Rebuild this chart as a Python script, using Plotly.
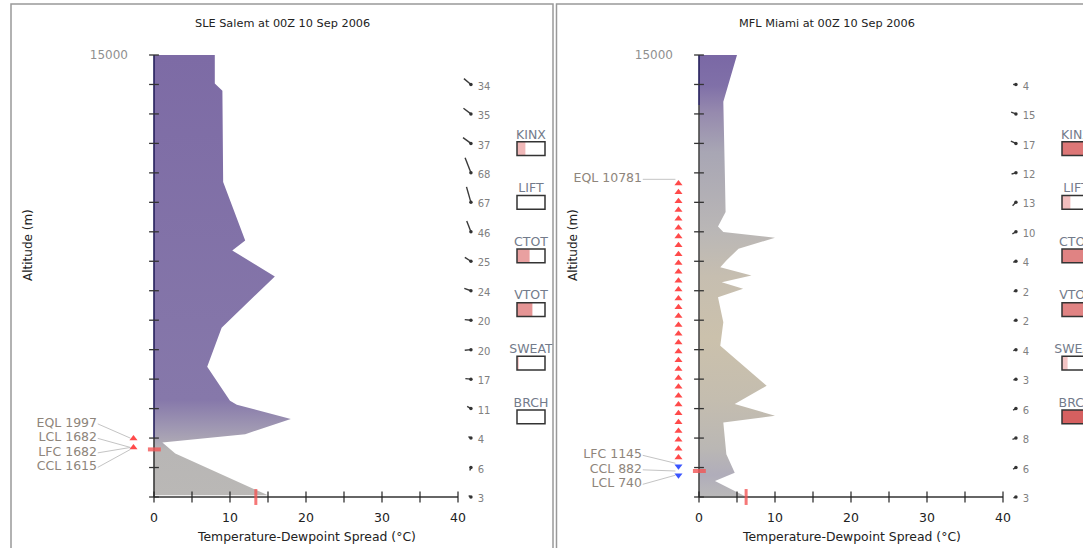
import numpy as np
import plotly.graph_objects as go

W, H = 1083, 548

# ---------------- data ----------------
titles = ["SLE Salem at 00Z 10 Sep 2006", "MFL Miami at 00Z 10 Sep 2006"]

# temperature-dewpoint spread profile (altitude m, spread °C)
sle_alt = [58, 1473, 1847, 2133, 2650, 3129, 3265, 4422, 5748, 7483, 8367, 8707, 10690, 13786, 14037, 15000]
sle_spread = [15.0, 2.8, 1.1, 12.0, 18.0, 10.9, 10.0, 7.0, 8.9, 15.9, 10.3, 12.0, 9.1, 9.0, 8.0, 8.0]

mfl_alt = [30, 544, 827, 1452, 2527, 2755, 3153, 3776, 5136, 5930, 6780, 7064, 7290, 7517, 7800,
           8027, 8425, 8800, 8990, 9184, 9670, 10986, 13412, 15000]
mfl_spread = [6.0, 2.1, 4.7, 3.6, 3.2, 10.0, 4.7, 8.9, 2.8, 3.2, 2.5, 5.8, 3.0, 6.9, 2.8,
              3.6, 5.2, 10.0, 3.2, 2.5, 3.5, 3.4, 3.2, 5.0]

# wind levels
wind_alt = [0, 1000, 2000, 3000, 4000, 5000, 6000, 7000, 8000, 9000, 10000, 11000, 12000, 13000, 14000]
sle_wspd = [3, 6, 4, 11, 17, 20, 20, 24, 25, 46, 67, 68, 37, 35, 34]
sle_wdir = [300, 200, 300, 300, 275, 265, 275, 290, 303, 339, 344, 339, 306, 307, 310]
mfl_wspd = [3, 6, 8, 6, 3, 4, 2, 2, 4, 10, 13, 12, 17, 15, 4]
mfl_wdir = [250, 240, 250, 240, 250, 250, 250, 250, 250, 240, 225, 255, 294, 291, 270]

# stability indices
index_names = ["KINX", "LIFT", "CTOT", "VTOT", "SWEAT", "BRCH"]
sle_index_frac = [0.30, 0.0, 0.45, 0.55, 0.05, 0.0]
sle_index_level = [0.25, 0.0, 0.45, 0.55, 0.1, 0.0]
mfl_index_frac = [1.0, 0.30, 1.0, 1.0, 0.20, 1.0]
mfl_index_level = [0.8, 0.2, 0.7, 0.7, 0.15, 1.0]

# parcel levels
sle_lvl_names = ["EQL", "LCL", "LFC", "CCL"]
sle_lvl_alt = [1997, 1682, 1682, 1615]
mfl_lvl_names = ["EQL", "LFC", "CCL", "LCL"]
mfl_lvl_alt = [10781, 1145, 882, 740]

# surface marker on spread axis
sle_surface_mark = 13.4
mfl_surface_mark = 6.2

x_ticks = [0, 10, 20, 30, 40]

# ---------------- styling / geometry ----------------
PXC = 7.6                 # px per °C
Y0, Y15 = 497, 55         # px of 0 m and 15000 m
K = (Y0 - Y15) / 15000.0  # px per metre
FONT = "DejaVu Sans"

sle_cs = [[0.0, "rgb(186,184,182)"], [0.105, "rgb(184,182,181)"], [0.125, "rgb(172,167,180)"],
          [0.16, "rgb(158,150,178)"], [0.22, "rgb(134,120,170)"], [1.0, "rgb(125,107,165)"]]
mfl_cs = [[0.0, "rgb(186,185,185)"], [0.05, "rgb(176,173,186)"], [0.11, "rgb(186,183,180)"],
          [0.22, "rgb(196,189,175)"], [0.36, "rgb(203,193,172)"], [0.5, "rgb(198,190,176)"],
          [0.6, "rgb(186,183,182)"], [0.78, "rgb(168,166,180)"], [0.87, "rgb(150,138,174)"],
          [0.93, "rgb(128,112,168)"], [1.0, "rgb(122,104,165)"]]

panels = [
    dict(title=titles[0], x0px=154, dom=(14, 552), alt=sle_alt, spread=sle_spread,
         wspd=sle_wspd, wdir=sle_wdir, ifrac=sle_index_frac, ilev=sle_index_level,
         lvl_names=sle_lvl_names, lvl_alt=sle_lvl_alt, smark=sle_surface_mark, cs=sle_cs,
         navy_above=2000, lowaxis="#3a3a3a"),
    dict(title=titles[1], x0px=699, dom=(558, 1083), alt=mfl_alt, spread=mfl_spread,
         wspd=mfl_wspd, wdir=mfl_wdir, ifrac=mfl_index_frac, ilev=mfl_index_level,
         lvl_names=mfl_lvl_names, lvl_alt=mfl_lvl_alt, smark=mfl_surface_mark, cs=mfl_cs,
         navy_above=13300, lowaxis="#4a4a4a"),
]

fig = go.Figure()
layout = dict(width=W, height=H, margin=dict(l=0, r=0, t=0, b=0), showlegend=False,
              plot_bgcolor="white", paper_bgcolor="white", barmode="overlay",
              font=dict(family=FONT, size=12, color="#222"))
annotations = []
shapes = []

ydom = [1 - 546 / H, 1 - 30 / H]
yrange = [-(546 - Y0) / K, 15000 + (Y15 - 30) / K]


def idx_color(v):
    a = np.array([249, 214, 214])
    b = np.array([214, 96, 96])
    c = a + (b - a) * v
    return "rgb(%d,%d,%d)" % tuple(c.astype(int))


for i, p in enumerate(panels):
    sx = "" if i == 0 else str(i + 1)
    xa, ya = "x" + sx, "y" + sx
    x0px = p["x0px"]
    d0, d1 = p["dom"]
    xr = [(d0 - x0px) / PXC, (d1 - x0px) / PXC]

    layout["xaxis" + sx] = dict(domain=[d0 / W, d1 / W], range=xr, anchor="free",
                                position=1 - Y0 / H, tickvals=x_ticks, ticks="outside",
                                ticklen=9, tickcolor="rgba(0,0,0,0)", showline=False,
                                showgrid=False, zeroline=False, fixedrange=True,
                                tickfont=dict(size=12.5, color="#222"))
    layout["yaxis" + sx] = dict(domain=ydom, range=yrange, anchor="free",
                                position=x0px / W, tickvals=[15000], ticktext=["15000"],
                                ticks="", ticklabelstandoff=26, showline=False,
                                showgrid=False, zeroline=False, fixedrange=True,
                                tickfont=dict(size=12, color="#8f8f8f"))

    # gradient-filled spread profile
    fx = [0] + list(p["spread"]) + [0]
    fy = [p["alt"][0]] + list(p["alt"]) + [15000]
    fig.add_trace(go.Scatter(x=fx, y=fy, xaxis=xa, yaxis=ya, mode="lines", fill="toself",
                             line=dict(width=0, color="rgba(0,0,0,0)"),
                             fillgradient=dict(type="vertical", colorscale=p["cs"],
                                               start=0, stop=15000),
                             hoverinfo="skip"))

    # index boxes
    box_l, box_w = (517 - 154) / PXC, 28 / PXC
    box_h = 13.7 / K
    box_c = [11820 - 1820 * j for j in range(len(index_names))]
    fig.add_trace(go.Bar(orientation="h", y=box_c, x=[f * box_w for f in p["ifrac"]],
                         base=box_l, width=box_h, xaxis=xa, yaxis=ya,
                         marker=dict(color=[idx_color(v) for v in p["ilev"]], line=dict(width=0)),
                         hoverinfo="skip"))
    fig.add_trace(go.Bar(orientation="h", y=box_c, x=[box_w] * len(box_c), base=box_l,
                         width=box_h, xaxis=xa, yaxis=ya,
                         marker=dict(color="rgba(0,0,0,0)", line=dict(width=1.5, color="#333")),
                         hoverinfo="skip"))
    fig.add_trace(go.Scatter(x=[box_l + box_w / 2] * len(box_c), y=[c + 450 for c in box_c],
                             text=index_names, mode="text", xaxis=xa, yaxis=ya,
                             textfont=dict(size=12.5, color="#737b8b"), cliponaxis=False,
                             hoverinfo="skip"))

    # wind barbs
    xdot = 41.7
    bx, by = [], []
    for a, dd, s in zip(wind_alt, p["wdir"], p["wspd"]):
        L = 2 + 0.21 * s
        r = np.radians(dd)
        bx += [xdot, xdot + L * np.sin(r) / PXC, None]
        by += [a, a + L * np.cos(r) / K, None]
    fig.add_trace(go.Scatter(x=bx, y=by, mode="lines", xaxis=xa, yaxis=ya,
                             line=dict(color="#3a3a3a", width=1.4), hoverinfo="skip"))
    fig.add_trace(go.Scatter(x=[xdot] * len(wind_alt), y=wind_alt, mode="markers",
                             xaxis=xa, yaxis=ya, cliponaxis=False,
                             marker=dict(size=3.5, color="#333"), hoverinfo="skip"))
    fig.add_trace(go.Scatter(x=[42.6] * len(wind_alt), y=[a - 90 for a in wind_alt],
                             text=[str(s) for s in p["wspd"]], mode="text",
                             textposition="middle right", xaxis=xa, yaxis=ya, cliponaxis=False,
                             textfont=dict(size=10, color="#808080"), hoverinfo="skip"))

    # parcel markers every 300 m from LCL to EQL
    nm = dict(zip(p["lvl_names"], p["lvl_alt"]))
    lcl, lfc, eql = nm["LCL"], nm["LFC"], nm["EQL"]
    pa = list(np.arange(lcl, eql + 1, 300.0))
    up = [a for a in pa if a >= lfc]
    dn = [a for a in pa if a < lfc]
    mx = -2.7
    fig.add_trace(go.Scatter(x=[mx] * len(up), y=up, mode="markers", xaxis=xa, yaxis=ya,
                             cliponaxis=False,
                             marker=dict(symbol="triangle-up", size=7, color="#ff4a4a"),
                             hoverinfo="skip"))
    if dn:
        fig.add_trace(go.Scatter(x=[mx] * len(dn), y=dn, mode="markers", xaxis=xa, yaxis=ya,
                                 cliponaxis=False,
                                 marker=dict(symbol="triangle-down", size=7, color="#3a55ff"),
                                 hoverinfo="skip"))

    # level labels with simple de-overlap (clusters)
    order = sorted(range(len(p["lvl_alt"])), key=lambda j: -p["lvl_alt"][j])
    gap = 14.5 / K
    clusters = [[j] for j in order]

    def cl_pos(c):
        m = np.mean([p["lvl_alt"][j] for j in c])
        n = len(c)
        return [m + gap * ((n - 1) / 2 - t) for t in range(n)]

    merged = True
    while merged:
        merged = False
        for ci in range(len(clusters) - 1):
            a_low = cl_pos(clusters[ci])[-1]
            b_high = cl_pos(clusters[ci + 1])[0]
            if a_low - b_high < gap:
                clusters[ci] = clusters[ci] + clusters[ci + 1]
                del clusters[ci + 1]
                merged = True
                break
    lab_y, lab_t, lx, ly = [], [], [], []
    tx = -7.5
    for c in clusters:
        for j, yy in zip(c, cl_pos(c)):
            lab_y.append(yy)
            lab_t.append("%s %d" % (p["lvl_names"][j], p["lvl_alt"][j]))
            lx += [tx + 0.1, -3.1, None]
            ly += [yy, p["lvl_alt"][j], None]
    fig.add_trace(go.Scatter(x=lx, y=ly, mode="lines", xaxis=xa, yaxis=ya,
                             line=dict(color="#c4c4c4", width=1), hoverinfo="skip"))
    fig.add_trace(go.Scatter(x=[tx] * len(lab_y), y=lab_y, text=lab_t, mode="text",
                             textposition="middle left", xaxis=xa, yaxis=ya, cliponaxis=False,
                             textfont=dict(size=12.5, color="#8e857b"), hoverinfo="skip"))

    # axes lines and ticks
    na = p["navy_above"]
    fig.add_trace(go.Scatter(x=[0, 0], y=[0, na], mode="lines", xaxis=xa, yaxis=ya,
                             line=dict(color=p["lowaxis"], width=1.6), hoverinfo="skip"))
    fig.add_trace(go.Scatter(x=[0, 0], y=[na, 15000], mode="lines", xaxis=xa, yaxis=ya,
                             line=dict(color="#25205c", width=1.6), hoverinfo="skip"))
    fig.add_trace(go.Scatter(x=[0] * 16, y=list(range(0, 15001, 1000)), mode="markers",
                             xaxis=xa, yaxis=ya, cliponaxis=False,
                             marker=dict(symbol="line-ew", size=7,
                                         line=dict(color="#333", width=1.3)),
                             hoverinfo="skip"))
    fig.add_trace(go.Scatter(x=[0, 40], y=[0, 0], mode="lines", xaxis=xa, yaxis=ya,
                             line=dict(color="#333", width=1.3), hoverinfo="skip"))
    fig.add_trace(go.Scatter(x=list(range(0, 41, 5)), y=[0] * 9, mode="markers",
                             xaxis=xa, yaxis=ya, cliponaxis=False,
                             marker=dict(symbol="line-ns", size=8,
                                         line=dict(color="#222", width=1.2)),
                             hoverinfo="skip"))

    # red marks: CCL on altitude axis, surface value on spread axis
    fig.add_trace(go.Scatter(x=[-0.8, 0.9], y=[nm["CCL"], nm["CCL"]], mode="lines",
                             xaxis=xa, yaxis=ya,
                             line=dict(color="rgba(242,85,85,0.8)", width=4), hoverinfo="skip"))
    fig.add_trace(go.Scatter(x=[p["smark"], p["smark"]], y=[-270, 270], mode="lines",
                             xaxis=xa, yaxis=ya,
                             line=dict(color="rgba(242,85,85,0.8)", width=3), hoverinfo="skip"))

    # titles
    cx = x0px + 20 * PXC
    annotations.append(dict(text=p["title"], x=(x0px + 128) / W, y=1 - 24 / H, xref="paper",
                            yref="paper", xanchor="center", yanchor="middle", showarrow=False,
                            font=dict(size=11.3, color="#222")))
    annotations.append(dict(text="Temperature-Dewpoint Spread (°C)", x=cx / W, y=1 - 536 / H,
                            xref="paper", yref="paper", xanchor="center", yanchor="middle",
                            showarrow=False, font=dict(size=12.4, color="#222")))
    annotations.append(dict(text="Altitude (m)", x=(x0px - 126) / W, y=1 - 245 / H,
                            xref="paper", yref="paper", xanchor="center", yanchor="middle",
                            showarrow=False, textangle=-90,
                            font=dict(size=12, color="#222")))

# panel frames
shapes.append(dict(type="path", xref="paper", yref="paper",
                   path="M %f,-0.1 L %f,%f L %f,%f L %f,-0.1" % (11 / W, 11 / W, 1 - 4 / H,
                                                               553 / W, 1 - 4 / H, 553 / W),
                   line=dict(color="#999", width=1.5)))
shapes.append(dict(type="path", xref="paper", yref="paper",
                   path="M %f,-0.1 L %f,%f L 1.1,%f" % (556.5 / W, 556.5 / W, 1 - 4 / H, 1 - 4 / H),
                   line=dict(color="#999", width=1.5)))

layout["annotations"] = annotations
layout["shapes"] = shapes
fig.update_layout(**layout)
fig.write_html("out.html")
